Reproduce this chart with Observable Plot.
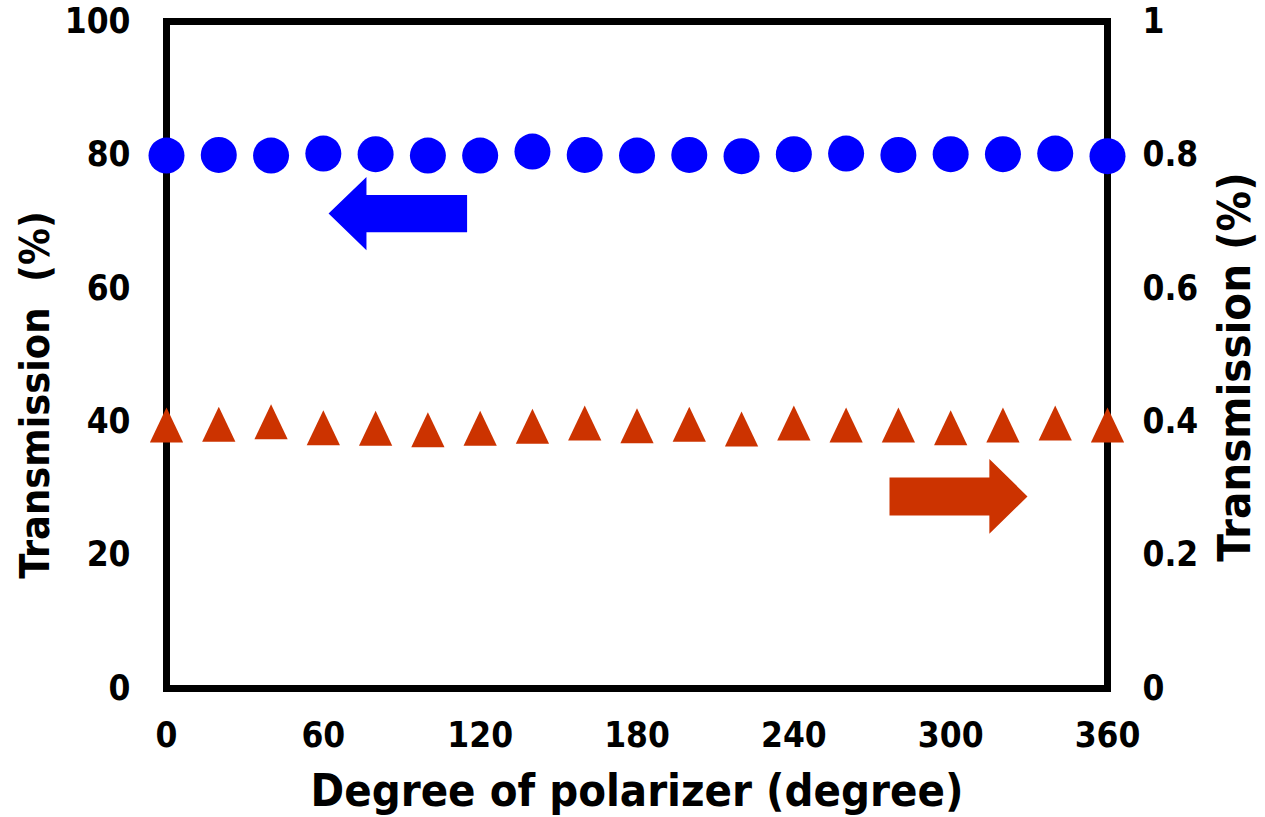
<!DOCTYPE html>
<html>
<head>
<meta charset="utf-8">
<script src="https://cdn.jsdelivr.net/npm/d3@7"></script>
<script src="https://cdn.jsdelivr.net/npm/@observablehq/plot@0.6"></script>
<style>
  html, body { margin: 0; padding: 0; background: #fff; }
  svg text { font-family: "DejaVu Sans Condensed", "DejaVu Sans", sans-serif; font-stretch: condensed; font-weight: bold; }
</style>
</head>
<body>
<div id="chart"></div>
<script>
// Degree of polarizer (x)
const degrees = [0, 20, 40, 60, 80, 100, 120, 140, 160, 180, 200, 220, 240, 260, 280, 300, 320, 340, 360];
// Left-axis series: transmission (%)
const transLeft = [79.9, 80.0, 79.9, 80.2, 80.1, 79.9, 79.9, 80.5, 80.0, 79.9, 80.0, 79.8, 80.1, 80.2, 80.0, 80.1, 80.1, 80.2, 79.8];
// Right-axis series: transmission (%) on 0–1 axis
const transRight = [0.395, 0.396, 0.400, 0.391, 0.390, 0.388, 0.390, 0.393, 0.398, 0.394, 0.396, 0.389, 0.398, 0.395, 0.395, 0.391, 0.395, 0.398, 0.395];
// Tick labels
const xTicks = [0, 60, 120, 180, 240, 300, 360];
const yTicks = [0, 20, 40, 60, 80, 100];
const rightScale = 100; // right axis 0–1 maps onto left axis 0–100
// Direction arrows (data units): tip, head base, tail, centre y, half heights
const arrows = [
  {tip: 62, head: 76.5, tail: 115, y: 71.2, body: 2.8, half: 5.5, color: "#0000ff"},
  {tip: 329.4, head: 314.8, tail: 276.6, y: 28.8, body: 2.85, half: 5.6, color: "#cc3300"}
];

const blue = "#0000ff", red = "#cc3300";

const ptsLeft = degrees.map((d, i) => ({x: d, y: transLeft[i]}));
const ptsRight = degrees.map((d, i) => ({x: d, y: transRight[i] * rightScale}));

function arrowPoly(a) {
  return [
    {x: a.tip, y: a.y},
    {x: a.head, y: a.y + a.half},
    {x: a.head, y: a.y + a.body},
    {x: a.tail, y: a.y + a.body},
    {x: a.tail, y: a.y - a.body},
    {x: a.head, y: a.y - a.body},
    {x: a.head, y: a.y - a.half},
    {x: a.tip, y: a.y}
  ];
}

const tri = {
  draw(context, size) {
    const r = Math.sqrt(size / Math.PI);
    const h = 2 * r, w = 1.9 * r;
    context.moveTo(0, -h / 2);
    context.lineTo(w / 2, h / 2);
    context.lineTo(-w / 2, h / 2);
    context.closePath();
  }
};

const fs = 35;
const plot = Plot.plot({
  width: 1265,
  height: 817,
  marginLeft: 166,
  marginRight: 158,
  marginTop: 21,
  marginBottom: 129,
  x: {domain: [0, 360]},
  y: {domain: [0, 100]},
  marks: [
    Plot.frame({stroke: "black", strokeWidth: 7}),
    Plot.axisY({anchor: "left", ticks: yTicks, tickSize: 0, tickPadding: 36, fontSize: fs, fontWeight: "bold", label: null}),
    Plot.axisY({anchor: "right", ticks: yTicks, tickSize: 0, tickPadding: 35, fontSize: fs, fontWeight: "bold", label: null, tickFormat: d => String(d / rightScale)}),
    Plot.axisX({ticks: xTicks, tickSize: 0, tickPadding: 34, fontSize: fs, fontWeight: "bold", label: null}),
    ...arrows.map(a => Plot.line(arrowPoly(a), {x: "x", y: "y", fill: a.color, stroke: "none", curve: "linear"})),
    Plot.dot(ptsLeft, {x: "x", y: "y", r: 18, fill: blue, stroke: "none"}),
    Plot.dot(ptsRight, {x: "x", y: "y", r: 17.5, symbol: tri, fill: red, stroke: "none"}),
    Plot.text(["Transmission  (%)"], {frameAnchor: "left", textAnchor: "middle", lineAnchor: "middle", dx: -131, dy: 40, rotate: -90, fontSize: 41, fontWeight: "bold", fill: "black"}),
    Plot.text(["Transmission (%)"], {frameAnchor: "right", textAnchor: "middle", lineAnchor: "middle", dx: 128, dy: 12, rotate: -90, fontSize: 45, fontWeight: "bold", fill: "black"}),
    Plot.text(["Degree of polarizer (degree)"], {frameAnchor: "bottom", lineAnchor: "middle", dy: 103, fontSize: 45, fontWeight: "bold", fill: "black"})
  ]
});
document.getElementById("chart").appendChild(plot);
</script>
</body>
</html>
